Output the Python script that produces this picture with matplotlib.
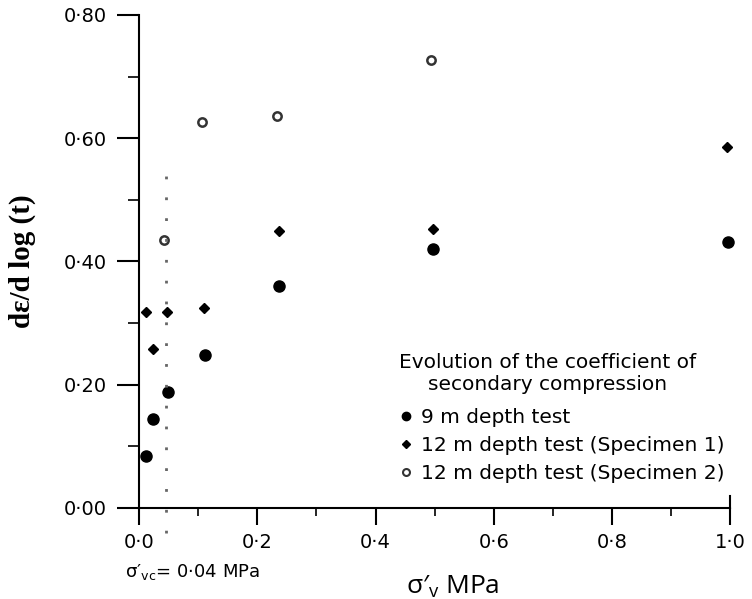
import matplotlib
matplotlib.use("Agg")
import matplotlib.pyplot as plt
from matplotlib.lines import Line2D
from matplotlib.ticker import MultipleLocator

# Values
x_9m = [0.011, 0.024, 0.049, 0.112, 0.237, 0.497, 0.997]
y_9m = [0.085, 0.144, 0.188, 0.248, 0.360, 0.420, 0.431]

x_12m_s1 = [0.011, 0.023, 0.048, 0.110, 0.236, 0.497, 0.994]
y_12m_s1 = [0.318, 0.258, 0.318, 0.325, 0.450, 0.452, 0.586]

x_12m_s2 = [0.042, 0.106, 0.234, 0.493]
y_12m_s2 = [0.435, 0.627, 0.636, 0.727]

sigma_vc = 0.045  # where the dotted line sits on the scan
xticks = [0.0, 0.2, 0.4, 0.6, 0.8, 1.0]
xticklabels = ["0·0", "0·2", "0·4", "0·6", "0·8", "1·0"]
yticks = [0.0, 0.2, 0.4, 0.6, 0.8]
yticklabels = ["0·00", "0·20", "0·40", "0·60", "0·80"]
series_labels = ["9 m depth test", "12 m depth test (Specimen 1)", "12 m depth test (Specimen 2)"]

plt.rcParams["font.family"] = ["DejaVu Sans"]

fig = plt.figure(figsize=(7.52, 5.99), dpi=100)
ax = fig.add_axes([0.185, 0.152, 0.786, 0.823])

ax.plot(x_9m, y_9m, "o", color="black", ms=8, ls="none", clip_on=False)
ax.plot(x_12m_s1, y_12m_s1, "D", color="black", ms=5.5, ls="none", clip_on=False)
ax.plot(x_12m_s2, y_12m_s2, "o", mfc="white", mec="#333333", mew=1.8, ms=6, ls="none",
        clip_on=False)

# dotted line for the preconsolidation stress
ax.plot([sigma_vc, sigma_vc], [-0.04, 0.545], color="#666666", lw=2,
        ls=(0, (1, 6.5)), clip_on=False)

ax.set_xlim(0, 1.0)
ax.set_ylim(0, 0.8)
ax.set_xticks(xticks)
ax.set_xticklabels(xticklabels, fontsize=14)
ax.set_yticks(yticks)
ax.set_yticklabels(yticklabels, fontsize=14)
ax.xaxis.set_minor_locator(MultipleLocator(0.1))
ax.yaxis.set_minor_locator(MultipleLocator(0.1))
ax.tick_params(axis="x", which="major", length=12, width=1.5, pad=6)
ax.tick_params(axis="x", which="minor", length=6, width=1.2)
ax.tick_params(axis="y", which="major", length=16, width=1.5, pad=7)
ax.tick_params(axis="y", which="minor", length=8, width=1.2)

ax.spines["top"].set_visible(False)
ax.spines["right"].set_bounds(0, 0.02)
for s in ["left", "bottom", "right"]:
    ax.spines[s].set_linewidth(1.5)

ax.set_ylabel("dε/d log (t)", fontsize=21, fontweight="bold", family="Liberation Serif")
ax.yaxis.set_label_coords(-0.175, 0.5)
ax.set_xlabel(r"σ′$_\mathregular{v}$ MPa", fontsize=19, family="Open Sans")
ax.xaxis.set_label_coords(0.53, -0.16)
ax.xaxis.label.set_va("center")

ax.text(-0.024, -0.13, r"σ′$_\mathregular{vc}$= 0·04 MPa", transform=ax.transAxes,
        fontsize=13, ha="left", va="center")

handles = [
    Line2D([], [], marker="o", color="black", ls="none", ms=6),
    Line2D([], [], marker="D", color="black", ls="none", ms=4.5),
    Line2D([], [], marker="o", mfc="white", mec="#333333", mew=1.5, ls="none", ms=5),
]
leg = ax.legend(handles, series_labels, loc="lower left", bbox_to_anchor=(0.44, 0.05),
                frameon=False, fontsize=14.5, title="Evolution of the coefficient of\nsecondary compression",
                title_fontsize=14.5, handlelength=0.7, handletextpad=0.4, labelspacing=0.45,
                borderpad=0, borderaxespad=0, alignment="left")
leg.get_title().set_multialignment("center")
leg._legend_box.sep = 10

fig.savefig("out.png", dpi=100)
